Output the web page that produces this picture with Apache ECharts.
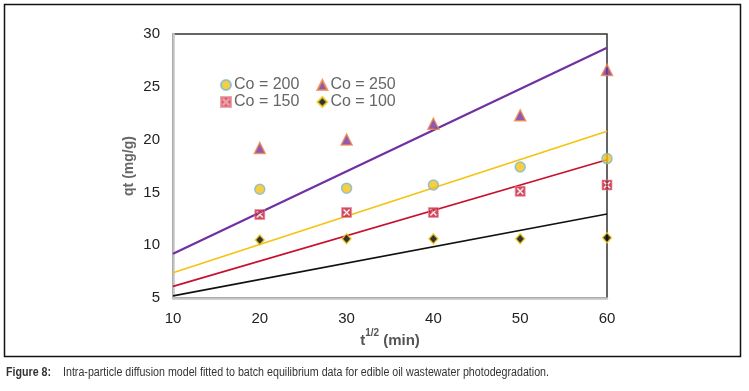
<!DOCTYPE html>
<html>
<head>
<meta charset="utf-8">
<script src="https://cdn.jsdelivr.net/npm/echarts@6/dist/echarts.min.js"></script>
<style>
    html, body { margin: 0; padding: 0; background: #fff; }
    #chart { width: 749px; height: 391px; }
</style>
</head>
<body>
<div id="chart"></div>
<script>
// x axis: t^(1/2)
const xTime = [20, 30, 40, 50, 60];
// measured qt values per Co
const co250 = [19.2, 20.0, 21.5, 22.3, 26.6];
const co200 = [15.3, 15.4, 15.7, 17.4, 18.2];
const co150 = [12.9, 13.1, 13.1, 15.1, 15.7];
const co100 = [10.5, 10.6, 10.6, 10.6, 10.7];
// fitted lines: values at x = 10 and x = 60
const fitX = [10, 60];
const fit250 = [9.2, 28.7];
const fit200 = [7.4, 20.8];
const fit150 = [6.1, 18.1];
const fit100 = [5.2, 12.95];

const xTicks = [10, 20, 30, 40, 50, 60];
const yTicks = [5, 10, 15, 20, 25, 30];

const font = "Liberation Sans, Arial, sans-serif";

function pairs(xs, ys) {
    let out = [];
    for (let i = 0; i < xs.length; i++) {
        out.push([xs[i], ys[i]]);
    }
    return out;
}

// square with an X cut out
const crossBox = 'path://M0,0H10V10H0Z M1.5,2.5L4,5L1.5,7.5L2.5,8.5L5,6L7.5,8.5L8.5,7.5L6,5L8.5,2.5L7.5,1.5L5,4L2.5,1.5Z';

let dom = echarts.init(document.getElementById('chart'));
let option = {
    animation: false,
    backgroundColor: '#fff',
    grid: {
        left: 173, right: 142, top: 34, bottom: 93,
        show: true,
        borderColor: '#333',
        borderWidth: 1.5
    },
    legend: [{
        left: 215, top: 72,
        itemWidth: 10, itemHeight: 10, itemGap: 17,
        textStyle: {color: '#666', fontSize: 16, fontFamily: font, padding: [0, 0, 0, -2]},
        data: ['Co = 200', 'Co = 250']
    }, {
        left: 215, top: 89,
        itemWidth: 10, itemHeight: 10, itemGap: 17,
        textStyle: {color: '#666', fontSize: 16, fontFamily: font, padding: [0, 0, 0, -2]},
        data: ['Co = 150', 'Co = 100']
    }],
    xAxis: {
        type: 'value',
        min: 10, max: 60, interval: 10,
        name: '{b|t}{s|1/2}{b| (min)}',
        nameLocation: 'middle',
        nameGap: 30,
        nameMoveOverlap: false,
        nameTextStyle: {
            rich: {
                b: {fontSize: 15, color: '#555', fontFamily: font, fontWeight: 'bold', verticalAlign: 'bottom', lineHeight: 20},
                s: {fontSize: 10, color: '#555', fontFamily: font, fontWeight: 'bold', verticalAlign: 'top', lineHeight: 20, padding: [0, 0, 8, 0]}
            }
        },
        axisLine: {lineStyle: {color: '#c4c4c4', width: 2.5}},
        axisTick: {show: false},
        splitLine: {show: false},
        axisLabel: {
            color: '#222', fontSize: 15, fontFamily: font, margin: 13,
            customValues: xTicks
        }
    },
    yAxis: {
        type: 'value',
        min: 5, max: 30, interval: 5,
        name: 'qt (mg/g)',
        nameLocation: 'middle',
        nameGap: 37,
        nameMoveOverlap: false,
        nameTextStyle: {color: '#666', fontSize: 14, fontWeight: 'bold', fontFamily: font},
        axisLine: {lineStyle: {color: '#c4c4c4', width: 2.5}},
        axisTick: {show: false},
        splitLine: {show: false},
        axisLabel: {
            color: '#222', fontSize: 15, fontFamily: font, margin: 13,
            customValues: yTicks
        }
    },
    series: [{
        name: 'fit 250', type: 'line', showSymbol: false, z: 2,
        lineStyle: {color: '#7030a0', width: 2.2},
        data: pairs(fitX, fit250)
    }, {
        name: 'fit 200', type: 'line', showSymbol: false, z: 2,
        lineStyle: {color: '#f5c211', width: 1.6},
        data: pairs(fitX, fit200)
    }, {
        name: 'fit 150', type: 'line', showSymbol: false, z: 2,
        lineStyle: {color: '#c8102e', width: 1.6},
        data: pairs(fitX, fit150)
    }, {
        name: 'fit 100', type: 'line', showSymbol: false, z: 2,
        lineStyle: {color: '#111', width: 1.6},
        data: pairs(fitX, fit100)
    }, {
        name: 'Co = 200', type: 'scatter', z: 3,
        symbol: 'circle', symbolSize: 10,
        itemStyle: {color: '#f5c211', borderColor: '#7ab8d8', borderWidth: 1.5},
        data: pairs(xTime, co200)
    }, {
        name: 'Co = 250', type: 'scatter', z: 3,
        symbol: 'triangle', symbolSize: 11,
        itemStyle: {color: '#7030a0', borderColor: '#f08a4b', borderWidth: 1.5},
        data: pairs(xTime, co250)
    }, {
        name: 'Co = 150', type: 'scatter', z: 3,
        symbol: crossBox, symbolSize: 10,
        itemStyle: {color: '#c41e3a', borderColor: '#e8909a', borderWidth: 0.8},
        data: pairs(xTime, co150)
    }, {
        name: 'Co = 100', type: 'scatter', z: 3,
        symbol: 'diamond', symbolSize: [9, 10],
        itemStyle: {color: '#000', borderColor: '#f5d020', borderWidth: 1.5},
        data: pairs(xTime, co100)
    }],
    graphic: [{
        type: 'rect',
        shape: {x: 4.5, y: 4.5, width: 736, height: 352},
        style: {fill: null, stroke: '#111', lineWidth: 1.5},
        silent: true
    }, {
        type: 'text',
        left: 6, top: 367,
        scaleX: 0.89,
        style: {text: 'Figure 8:', fill: '#333', font: 'bold 12px ' + font}
    }, {
        type: 'text',
        left: 63, top: 367,
        scaleX: 0.89,
        style: {
            text: 'Intra-particle diffusion model fitted to batch equilibrium data for edible oil wastewater photodegradation.',
            fill: '#333', font: '12px ' + font
        }
    }]
};
dom.setOption(option);
</script>
</body>
</html>
